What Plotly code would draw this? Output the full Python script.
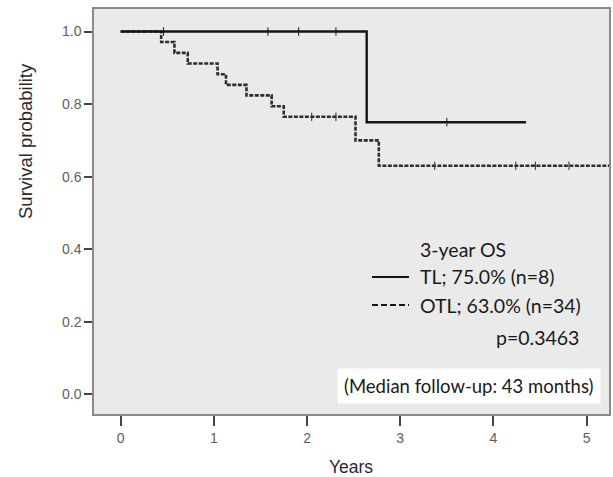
import plotly.graph_objects as go

# Kaplan-Meier step data (years, survival probability)
tl_time = [0.0, 2.64, 4.35]
tl_surv = [1.0, 0.75, 0.75]
tl_cens_time = [0.46, 1.58, 1.91, 2.31, 3.50]
tl_cens_surv = [1.0, 1.0, 1.0, 1.0, 0.75]

otl_time = [0.0, 0.435, 0.577, 0.72, 1.04, 1.13, 1.35, 1.62, 1.75, 2.52, 2.77, 5.6]
otl_surv = [1.0, 0.971, 0.941, 0.912, 0.882, 0.853, 0.824, 0.794, 0.765, 0.70, 0.63, 0.63]
otl_cens_time = [2.05, 2.31, 3.37, 4.24, 4.45, 4.81]
otl_cens_surv = [0.765, 0.765, 0.63, 0.63, 0.63, 0.63]

x_ticks = [0, 1, 2, 3, 4, 5]
y_ticks = [0.0, 0.2, 0.4, 0.6, 0.8, 1.0]
y_tick_labels = ["0.0", "0.2", "0.4", "0.6", "0.8", "1.0"]

TL_COLOR = "#151515"
OTL_COLOR = "#2e2e2e"

fig = go.Figure()
fig.add_trace(go.Scatter(x=otl_time, y=otl_surv, mode="lines", line_shape="hv",
                         line=dict(color=OTL_COLOR, width=2.6, dash="4px,1.5px"),
                         showlegend=False, hoverinfo="skip"))
fig.add_trace(go.Scatter(x=otl_cens_time, y=otl_cens_surv, mode="markers",
                         marker=dict(symbol="line-ns-open", size=6, color=OTL_COLOR,
                                     line=dict(color=OTL_COLOR, width=1)),
                         showlegend=False, hoverinfo="skip"))
fig.add_trace(go.Scatter(x=tl_time, y=tl_surv, mode="lines", line_shape="hv",
                         line=dict(color=TL_COLOR, width=2.4),
                         showlegend=False, hoverinfo="skip"))
fig.add_trace(go.Scatter(x=tl_cens_time, y=tl_cens_surv, mode="markers",
                         marker=dict(symbol="line-ns-open", size=6, color=TL_COLOR,
                                     line=dict(color=TL_COLOR, width=1)),
                         showlegend=False, hoverinfo="skip"))

TEXT_FONT = dict(family="Lato, 'Open Sans', sans-serif", size=19.5, color="#1a1a1a")
BOX_FONT = dict(family="Lato, 'Open Sans', sans-serif", size=18.5, color="#1a1a1a")
AX_FONT = dict(family="'Liberation Sans', Arial, sans-serif", size=14, color="#5e5e5e")
TITLE_FONT = dict(family="'Liberation Sans', Arial, sans-serif", size=17.5, color="#2a2a2a")

L, R, T, B = 94, 609, 9, 414


def px_x(px):
    return (px - L) / (R - L)


def px_y(py):
    return (B - py) / (B - T)


annotations = [
    dict(text="3-year OS", x=px_x(418), y=px_y(249), xanchor="left", yanchor="middle"),
    dict(text="TL; 75.0% (n=8)", x=px_x(418), y=px_y(277), xanchor="left", yanchor="middle"),
    dict(text="OTL; 63.0% (n=34)", x=px_x(418), y=px_y(305), xanchor="left", yanchor="middle"),
    dict(text="p=0.3463", x=px_x(581), y=px_y(337), xanchor="right", yanchor="middle"),
]
for a in annotations:
    a.update(xref="paper", yref="paper", showarrow=False, font=TEXT_FONT)

annotations.append(dict(text="(Median follow-up: 43 months)", x=px_x(469), y=px_y(386),
                        xref="paper", yref="paper", showarrow=False, font=BOX_FONT,
                        xanchor="center", yanchor="middle",
                        bgcolor="white", borderpad=6))
# axis titles
annotations.append(dict(text="Years", x=px_x(351), y=px_y(467), xref="paper", yref="paper",
                        showarrow=False, font=TITLE_FONT, xanchor="center", yanchor="middle"))
annotations.append(dict(text="Survival probability", x=px_x(25), y=px_y(141), xref="paper",
                        yref="paper", showarrow=False, font=dict(TITLE_FONT, size=18.5),
                        textangle=-90, xanchor="center", yanchor="middle"))
fig.update_layout(annotations=annotations)

shapes = [
    dict(type="line", xref="paper", yref="paper", x0=px_x(372), x1=px_x(409),
         y0=px_y(277), y1=px_y(277), line=dict(color=TL_COLOR, width=2)),
    dict(type="line", xref="paper", yref="paper", x0=px_x(372), x1=px_x(409),
         y0=px_y(305), y1=px_y(305), line=dict(color=TL_COLOR, width=2, dash="6px,3px")),
]
fig.update_layout(shapes=shapes)

fig.update_xaxes(range=[-0.286, 5.24], tickvals=x_ticks, ticks="outside", ticklen=10,
                 tickwidth=1.5, tickcolor="#444", tickfont=AX_FONT, automargin=False,
                 showgrid=False, zeroline=False, showline=True, linecolor="#8a8a8a",
                 linewidth=1.5, mirror=True)
fig.update_yaxes(range=[-0.054, 1.062], tickvals=y_ticks, ticktext=y_tick_labels,
                 ticks="outside", ticklen=8, tickwidth=1.5, tickcolor="#444", tickfont=AX_FONT,
                 automargin=False,
                 showgrid=False, zeroline=False, showline=True, linecolor="#8a8a8a",
                 linewidth=1.5, mirror=True)

fig.update_layout(width=613, height=477, margin=dict(l=L, r=613 - R, t=T, b=477 - B),
                  plot_bgcolor="#eaeaea", paper_bgcolor="white")

fig.write_html("out.html", config={"displayModeBar": False},
               post_script="document.body.style.margin='0';")
